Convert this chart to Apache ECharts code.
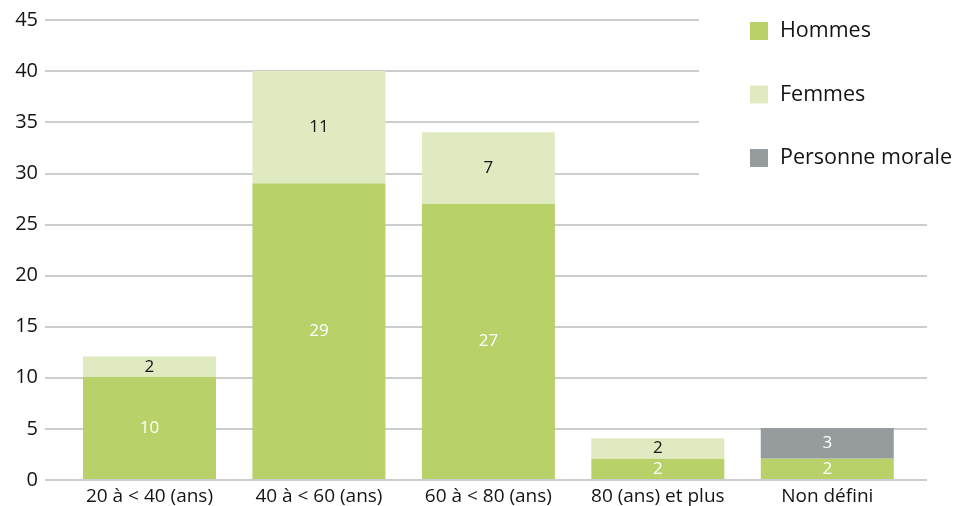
<!DOCTYPE html>
<html>
<head>
<meta charset="utf-8">
<script src="https://cdn.jsdelivr.net/npm/echarts@6/dist/echarts.min.js"></script>
<style>
  html, body { margin: 0; padding: 0; background: #fff; }
  #chart { width: 960px; height: 506px; }
</style>
</head>
<body>
<div id="chart"></div>
<script>
// Age groups and counts per group
const categories = ['20 à < 40 (ans)', '40 à < 60 (ans)', '60 à < 80 (ans)', '80 (ans) et plus', 'Non défini'];
const hommes = [10, 29, 27, 2, 2];
const femmes = [2, 11, 7, 2, null];
const personneMorale = [null, null, null, null, 3];
const yTicks = [0, 5, 10, 15, 20, 25, 30, 35, 40, 45];

const FONT = '"Open Sans", "Noto Sans", sans-serif';
const TEXT = '#141414';
const GRID_LINE = { show: true, lineStyle: { color: '#cbcdce', width: 2 } };
const yMin = yTicks[0], yMax = yTicks[yTicks.length - 1], yStep = yTicks[1] - yTicks[0];

const chart = echarts.init(document.getElementById('chart'), null, { renderer: 'canvas' });

const labelStyle = (color) => ({
  show: true, position: 'inside', color: color,
  fontFamily: FONT, fontSize: 17
});

chart.setOption({
  animation: false,
  textStyle: { fontFamily: FONT },
  legend: {
    orient: 'vertical', left: 750, top: 20, padding: 0,
    itemWidth: 18, itemHeight: 18, itemGap: 41.5, icon: 'rect',
    textStyle: { fontSize: 21.5, lineHeight: 18, color: TEXT, fontFamily: FONT, padding: [0, 0, 0, 7] },
    data: ['Hommes', 'Femmes', 'Personne morale']
  },
  grid: [
    // bars
    { left: 64.75, right: 48, top: 20, bottom: 26 },
    // full-height gridlines (shorter, beside the legend)
    { left: 45, right: 261, top: 20, bottom: 26 },
    // lower gridlines running under the legend area
    { left: 45, right: 33, top: 480 - (25 / 45) * 460, bottom: 26 }
  ],
  xAxis: [
    {
      gridIndex: 0, type: 'category', data: categories,
      axisLine: { show: false }, axisTick: { show: false },
      axisLabel: { color: TEXT, fontSize: 19, fontFamily: FONT, margin: 8, interval: 0 }
    },
    { gridIndex: 1, type: 'value', show: false },
    { gridIndex: 2, type: 'value', show: false }
  ],
  yAxis: [
    { gridIndex: 0, type: 'value', min: yMin, max: yMax, interval: yStep, show: false },
    {
      gridIndex: 1, type: 'value', min: yMin, max: yMax, interval: yStep,
      axisLine: { show: false }, axisTick: { show: false },
      axisLabel: { color: TEXT, fontSize: 20, fontFamily: FONT, margin: 7 },
      splitLine: GRID_LINE
    },
    {
      gridIndex: 2, type: 'value', min: 0, max: 25, interval: yStep,
      axisLine: { show: false }, axisTick: { show: false },
      axisLabel: { show: false },
      splitLine: GRID_LINE
    }
  ],
  series: [
    {
      name: 'Hommes', type: 'bar', stack: 'total', xAxisIndex: 0, yAxisIndex: 0,
      data: hommes, barWidth: 133, itemStyle: { color: '#b8d168' },
      label: labelStyle('#ffffff'), z: 5
    },
    {
      name: 'Femmes', type: 'bar', stack: 'total', xAxisIndex: 0, yAxisIndex: 0,
      data: femmes, barWidth: 133, itemStyle: { color: '#dfeac0' },
      label: labelStyle(TEXT), z: 5
    },
    {
      name: 'Personne morale', type: 'bar', stack: 'total', xAxisIndex: 0, yAxisIndex: 0,
      data: personneMorale, barWidth: 133, itemStyle: { color: '#969c9d' },
      label: labelStyle('#ffffff'), z: 5
    }
  ]
});
</script>
</body>
</html>
